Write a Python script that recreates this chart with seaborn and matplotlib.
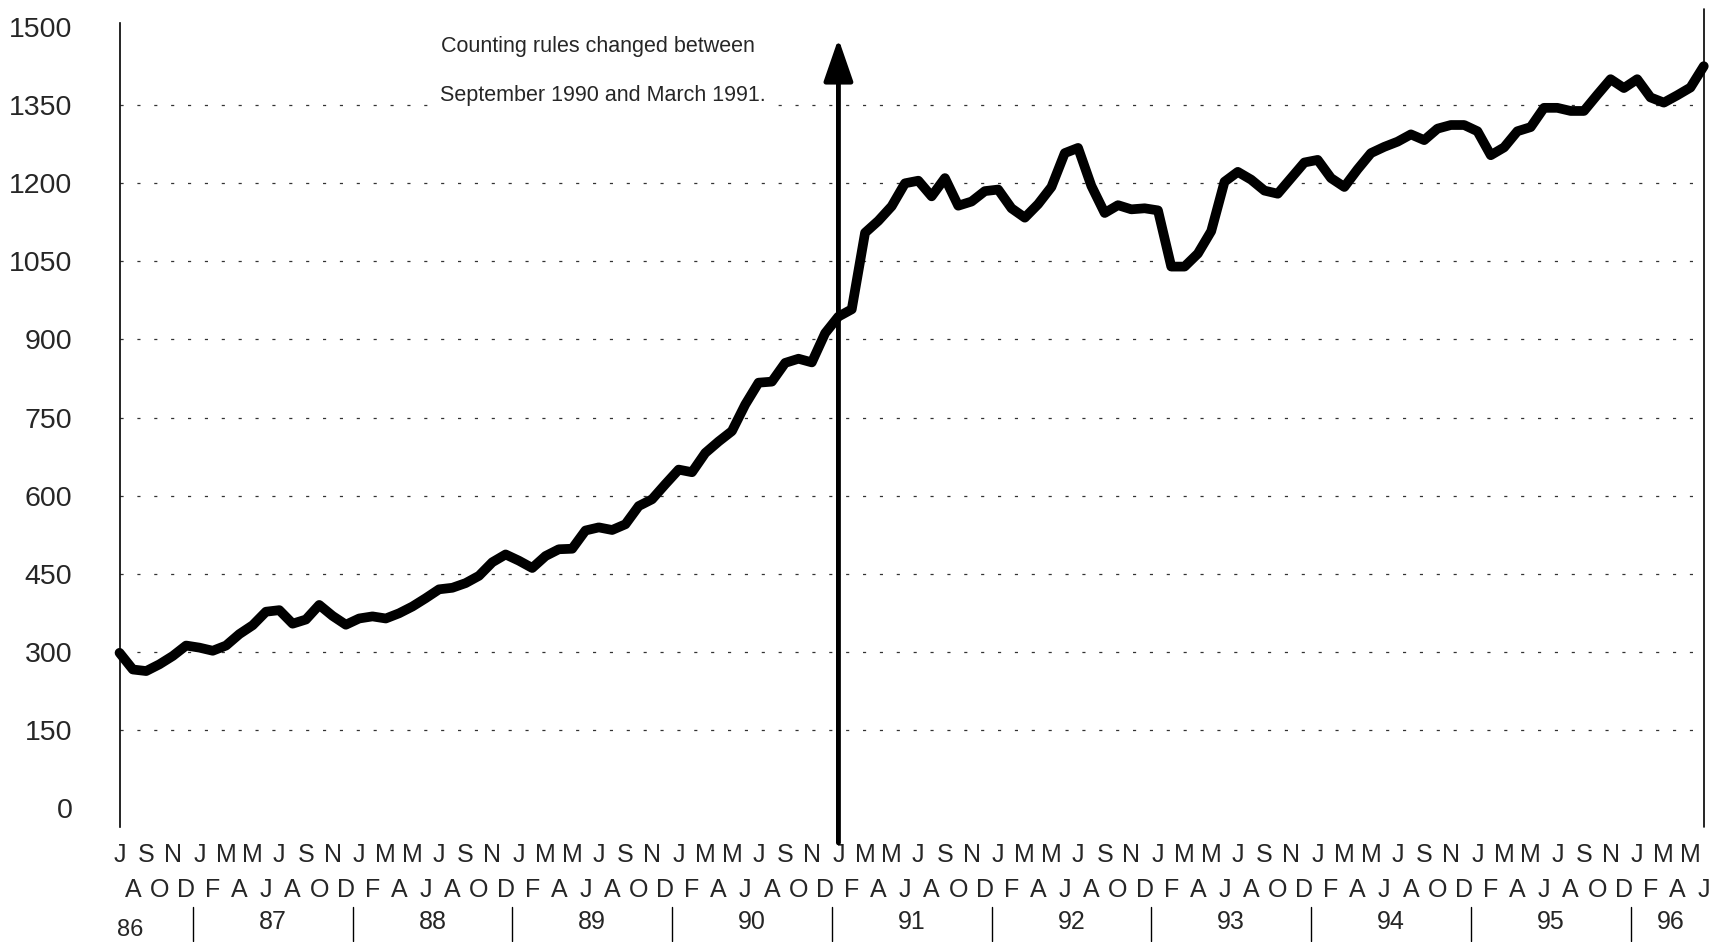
import matplotlib.pyplot as plt
import numpy as np
import pandas as pd
import seaborn as sns

# monthly series, July 1986 .. June 1996
month_letters = ['J', 'A', 'S', 'O', 'N', 'D', 'J', 'F', 'M', 'A', 'M', 'J']
year_labels = ['86', '87', '88', '89', '90', '91', '92', '93', '94', '95', '96']
counts = [
    298, 266, 263, 276, 292, 312,                                         # 86
    308, 302, 312, 334, 351, 377, 380, 354, 362, 390, 369, 352,           # 87
    364, 368, 364, 374, 387, 403, 420, 423, 432, 446, 472, 487,           # 88
    475, 461, 484, 497, 498, 533, 539, 534, 545, 580, 593, 622,           # 89
    650, 645, 682, 704, 724, 775, 817, 819, 855, 863, 856, 912,           # 90
    944, 958, 1105, 1128, 1156, 1200, 1205, 1175, 1210, 1157, 1165, 1185, # 91
    1188, 1152, 1134, 1160, 1193, 1258, 1268, 1195, 1143, 1158, 1150, 1152,  # 92
    1148, 1040, 1040, 1065, 1108, 1203, 1222, 1207, 1186, 1180, 1210, 1240,  # 93
    1245, 1210, 1193, 1227, 1258, 1270, 1280, 1294, 1283, 1305, 1312, 1312,  # 94
    1300, 1254, 1269, 1300, 1308, 1345, 1345, 1339, 1339, 1370, 1400, 1383,  # 95
    1400, 1365, 1355, 1369, 1384, 1425,                                   # 96
]
y_ticks = [0, 150, 300, 450, 600, 750, 900, 1050, 1200, 1350, 1500]
rule_change_month = 54  # January 1991
note_lines = ['Counting rules changed between', 'September 1990 and March 1991.']

sns.set_style('white')
plt.rcParams['font.family'] = ['Liberation Sans', 'DejaVu Sans']

n = len(counts)
df = pd.DataFrame({'month': np.arange(n), 'count': counts})

fig = plt.figure(figsize=(17.35, 9.42), dpi=100)
ax = fig.add_axes([0.0689, 0.1224, 0.982 - 0.0689, 0.9756 - 0.1224])

sns.lineplot(data=df, x='month', y='count', ax=ax, color='black', lw=7,
             solid_joinstyle='round', solid_capstyle='round', clip_on=False, zorder=5)

ax.set_xlim(0, n - 1)
ax.set_ylim(-36, 1508)
ax.set_xlabel('')
ax.set_ylabel('')

# dashed grid lines
for v in y_ticks[1:-1]:
    ax.axhline(v, color='#333333', lw=0.9, ls=(0, (2.5, 11)), zorder=1)

for side in ['top', 'right', 'bottom']:
    ax.spines[side].set_visible(False)
ax.spines['left'].set_color('black')
ax.spines['left'].set_linewidth(1.2)

ax.set_yticks(y_ticks)
ax.set_yticklabels([str(v) for v in y_ticks], fontsize=20.5)
ax.tick_params(axis='y', length=14, width=0.8, color='#555555', pad=20)

# month ticks, two staggered rows of letters
idx = np.arange(n)
ax.set_xticks(idx[::2])
ax.set_xticklabels([month_letters[i % 12] for i in idx[::2]], fontsize=18)
ax.set_xticks(idx[1::2], minor=True)
ax.set_xticklabels([month_letters[i % 12] for i in idx[1::2]], minor=True, fontsize=18)
ax.tick_params(axis='x', which='both', direction='in', length=16, width=0.9, color='#333333')
ax.tick_params(axis='x', which='major', pad=12)
ax.tick_params(axis='x', which='minor', pad=37)

# year row
xt = ax.get_xaxis_transform()
for k, yl in enumerate(year_labels):
    if k == 0:
        ax.text(0.8, -0.128, yl, transform=xt, ha='center', va='center', fontsize=17)
        continue
    start = 6 + 12 * (k - 1)
    end = min(start + 11, n - 1)
    ax.text((start + end) / 2, -0.119, yl, transform=xt, ha='center', va='center', fontsize=18)
    ax.plot([start - 0.5, start - 0.5], [-0.100, -0.142], transform=xt,
            color='black', lw=1, clip_on=False)

# right border line
ax.plot([n - 1, n - 1], [0, 1.018], transform=xt, color='black', lw=1.2, clip_on=False)

# arrow marking the change of counting rules
ax.annotate('', xy=(rule_change_month, 1478), xytext=(rule_change_month, -67),
            arrowprops=dict(arrowstyle='-|>,head_length=1.3,head_width=0.45', lw=3.5,
                            color='black', mutation_scale=20, shrinkA=0, shrinkB=0),
            annotation_clip=False, zorder=6)

ax.text(35.9, 1463, note_lines[0], ha='center', va='center', fontsize=15.5)
ax.text(36.3, 1369, note_lines[1], ha='center', va='center', fontsize=15.5,
        bbox=dict(facecolor='white', edgecolor='none', pad=1), zorder=3)

plt.savefig('out.png', dpi=100)
